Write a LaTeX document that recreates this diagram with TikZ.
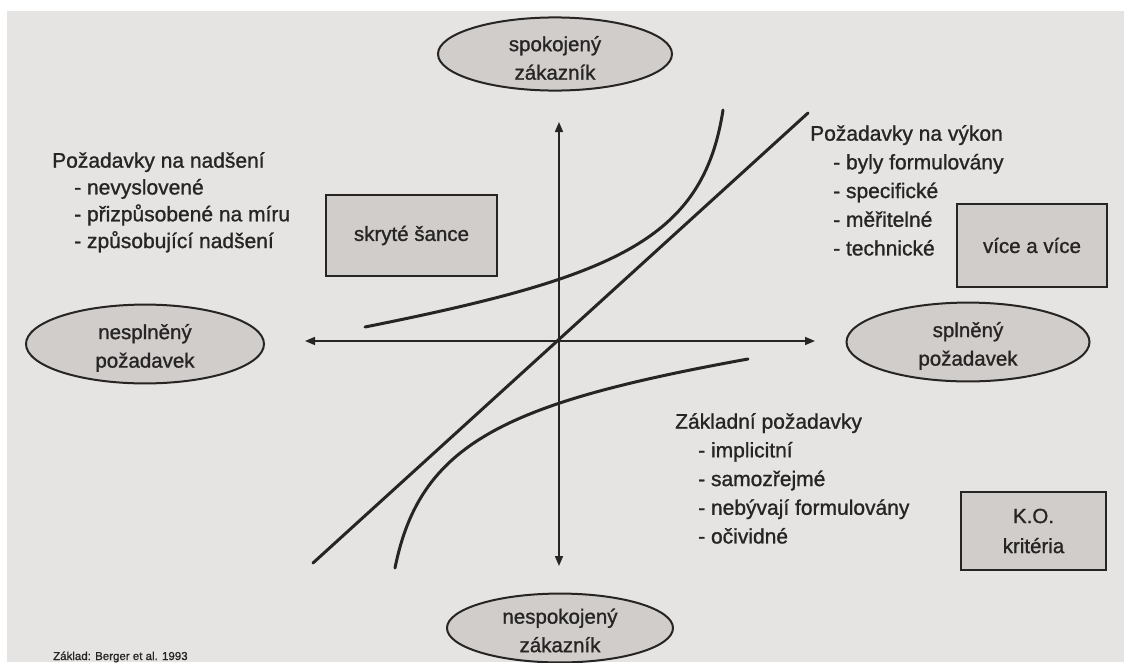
\documentclass[tikz,border=0pt]{standalone}
\usepackage{fontspec}
\setmainfont{Liberation Sans}[FakeBold=1.1]
\usetikzlibrary{arrows.meta,shapes.geometric}
\definecolor{paper}{HTML}{E6E4E2}
\definecolor{shade}{HTML}{D0CDCB}
\definecolor{ink}{HTML}{262524}
\newcommand{\toppad}{\rule{0pt}{23pt}}
\newcommand{\lowpad}{\rule{0pt}{20pt}}
\begin{document}
\begin{tikzpicture}[x=1pt,y=-1pt,
  oval/.style={ellipse, draw=ink, line width=2pt, fill=shade, inner sep=0pt,
    align=center, text=ink, font=\fontsize{20.5}{28.5}\selectfont},
  gbox/.style={rectangle, draw=ink, line width=1.8pt, fill=shade, inner sep=0pt,
    align=center, text=ink, font=\fontsize{20.5}{30}\selectfont},
  lbl/.style={anchor=north west, align=left, inner sep=0pt, text=ink},
  axis/.style={draw=ink, line width=1.6pt, {Triangle[length=10pt,width=8pt]}-{Triangle[length=10pt,width=8pt]}},
  curve/.style={draw=ink, line width=3pt, line cap=round}]
% page and paper
\fill[white] (0,0) rectangle (1124,662);
\fill[paper] (7,11) rectangle (1124,662);
\useasboundingbox (0,0) rectangle (1124,662);

% axes
\coordinate (axL) at (305,341);
\coordinate (axR) at (815,341);
\coordinate (axT) at (559,122);
\coordinate (axB) at (559,566);
\draw[axis] (axL) -- (axR);
\draw[axis] (axB) -- (axT);

% curves
\draw[curve] (313,563) -- (808,113);
\draw[curve] (365,327) .. controls (615,277) and (703,240) .. (723,110);
\draw[curve] (395,568) .. controls (420,443) and (505,403) .. (748,359);

% ellipses
\node[oval, minimum width=234pt, minimum height=67pt] (spok) at (555,54) {\toppad spokojený\\zákazník};
\node[oval, minimum width=226pt, minimum height=64pt] (nespok) at (560,628) {\lowpad nespokojený\\zákazník};
\node[oval, minimum width=238pt, minimum height=66pt] (nespl) at (145,344) {\toppad nesplněný\\požadavek};
\node[oval, minimum width=243pt, minimum height=69pt] (spl) at (968,342) {\toppad splněný\\požadavek};

% boxes
\node[gbox, minimum width=171pt, minimum height=81pt] (skryte) at (411.5,235.5) {skryté šance};
\node[gbox, minimum width=150pt, minimum height=83pt] (vice) at (1032,245.5) {více a více};
\node[gbox, minimum width=145pt, minimum height=78pt] (ko) at (1033.5,531) {K.O.\\kritéria};

% text blocks
\node[lbl, font=\fontsize{21}{26.8}\selectfont] (nadseni) at (52,152)
  {Požadavky na nadšení\\
   \hspace*{22pt}- nevyslovené\\
   \hspace*{22pt}- přizpůsobené na míru\\
   \hspace*{22pt}- způsobující nadšení};
\node[lbl, font=\fontsize{21}{28.7}\selectfont] (vykon) at (810,125)
  {Požadavky na výkon\\
   \hspace*{23pt}- byly formulovány\\
   \hspace*{23pt}- specifické\\
   \hspace*{23pt}- měřitelné\\
   \hspace*{23pt}- technické};
\node[lbl, font=\fontsize{21}{28.7}\selectfont] (zaklad) at (675,413)
  {Základní požadavky\\
   \hspace*{23pt}- implicitní\\
   \hspace*{23pt}- samozřejmé\\
   \hspace*{23pt}- nebývají formulovány\\
   \hspace*{23pt}- očividné};
\node[anchor=base west, inner sep=0pt, text=ink, font=\fontsize{11.5}{13}\selectfont] (zdroj) at (53,660)
  {Základ: Berger et al. 1993};
\end{tikzpicture}
\end{document}
